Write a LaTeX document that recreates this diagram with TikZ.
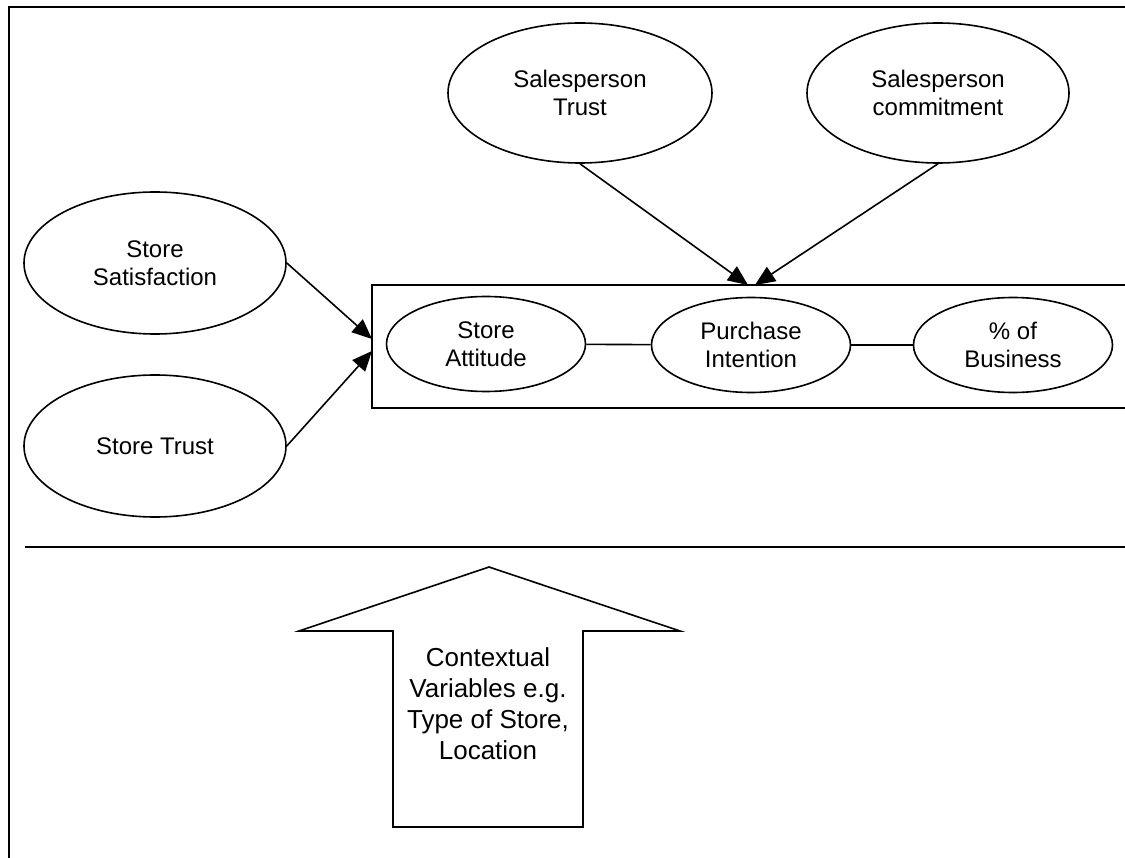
\documentclass[tikz,border=0pt]{standalone}
\usepackage{fontspec}
\setmainfont{Liberation Sans}
\usetikzlibrary{shapes.geometric,arrows.meta}
\begin{document}
\begin{tikzpicture}[x=1pt,y=-1pt,
  line width=1.6pt,
  oval/.style={ellipse,draw,inner sep=0pt,align=center,font=\fontsize{24}{28}\selectfont},
  bigoval/.style={oval,minimum width=262pt,minimum height=142pt},
  smalloval/.style={oval,minimum width=199pt,minimum height=95pt},
  arr/.style={-{Triangle[length=20pt,width=17pt]}},
  lbl/.style={align=center,font=\fontsize{26}{31}\selectfont}]
\useasboundingbox (0,0) rectangle (1125,858);
% frame and divider
\draw (9,858) -- (9,7) -- (1127,7);
\draw (25,547) -- (1127,547);
% outcome box (open on the right)
\draw (1127,285) -- (372,285) -- (372,408) -- (1127,408);
% antecedents
\node[bigoval] (ss) at (155,263) {Store\\Satisfaction};
\node[bigoval] (st) at (155,446) {Store Trust};
\node[bigoval,minimum width=264pt,minimum height=140pt] (spt) at (580,93) {Salesperson\\Trust};
\node[bigoval,minimum width=262pt,minimum height=140pt] (spc) at (938,93) {Salesperson\\commitment};
% outcomes
\node[smalloval] (sa) at (486,344) {Store\\Attitude};
\node[smalloval] (pi) at (751,345) {Purchase\\Intention};
\node[smalloval] (pb) at (1013,345) {\%\ of\\Business};
\draw (sa) -- (pi);
\draw (pi) -- (pb);
% arrow tips on the box
\coordinate (t1) at (372,339);
\coordinate (t2) at (372,351);
\coordinate (t3) at (748,285);
\coordinate (t4) at (755,285);
\draw[arr] (ss.east) -- (t1);
\draw[arr] (st.east) -- (t2);
\draw[arr] (spt.south) -- (t3);
\draw[arr] (spc.south) -- (t4);
% contextual block arrow
\draw (393,827) -- (393,631) -- (299,631) -- (489,567) -- (680,631) -- (583,631) -- (583,827) -- cycle;
\node[lbl] (ctx) at (488,704) {Contextual\\Variables e.g.\\Type of Store,\\Location};
\end{tikzpicture}
\end{document}
